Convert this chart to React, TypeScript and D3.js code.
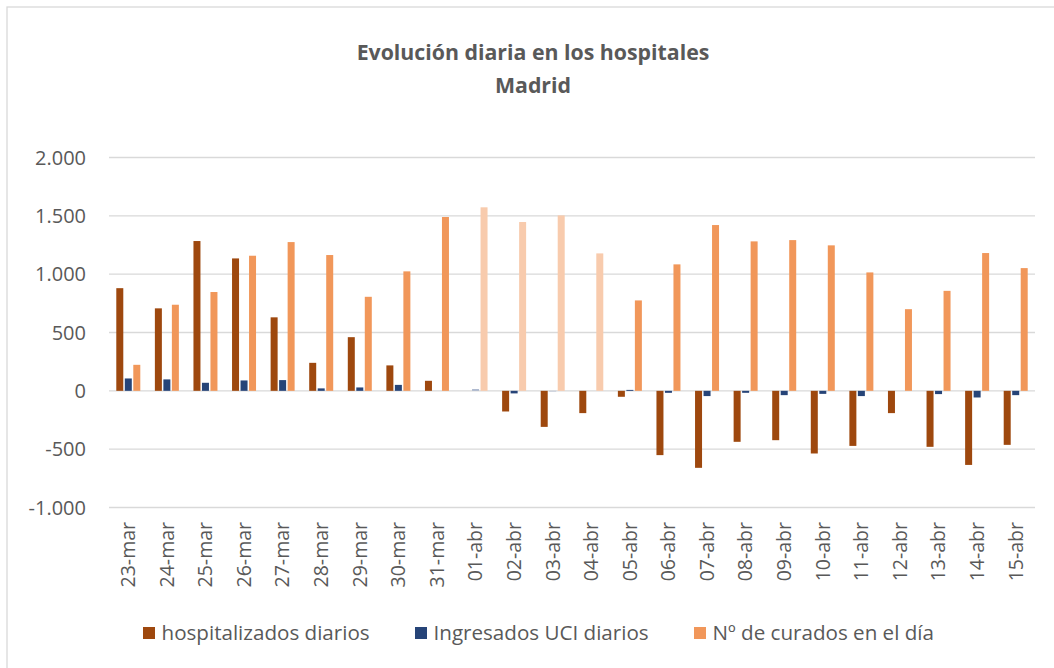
import * as d3 from 'd3';

const days = ['23-mar', '24-mar', '25-mar', '26-mar', '27-mar', '28-mar', '29-mar', '30-mar', '31-mar',
  '01-abr', '02-abr', '03-abr', '04-abr', '05-abr', '06-abr', '07-abr', '08-abr', '09-abr', '10-abr',
  '11-abr', '12-abr', '13-abr', '14-abr', '15-abr'];
const hospitalizados = [880, 707, 1284, 1135, 630, 240, 460, 218, 86, 0, -177, -309, -191, -51, -551, -660, -437, -423, -537, -472, -191, -480, -635, -463];
const uci = [106, 98, 69, 89, 92, 21, 29, 51, 0, 15, -22, -5, 0, 8, -17, -45, -17, -37, -26, -45, 0, -28, -57, -37];
const curados = [223, 738, 847, 1158, 1275, 1164, 806, 1024, 1490, 1573, 1447, 1504, 1178, 775, 1084, 1421, 1281, 1292, 1247, 1015, 700, 857, 1181, 1052];
const yTicks = [-1000, -500, 0, 500, 1000, 1500, 2000];
// points that are drawn in a paler tone in the original
const paleCurados = ['01-abr', '02-abr', '03-abr', '04-abr'];
const paleUci = ['01-abr', '03-abr'];

const series = [
  { name: 'hospitalizados diarios', values: hospitalizados, color: '#9E480E', pale: [] as string[], pcolor: '#9E480E' },
  { name: 'Ingresados UCI diarios', values: uci, color: '#264478', pale: paleUci, pcolor: '#A9B5CC' },
  { name: 'Nº de curados en el día', values: curados, color: '#F1975A', pale: paleCurados, pcolor: '#F8CBAD' },
];

const W = 1054, H = 668;
const left = 109, right = 1035, top = 157.5, bottom = 507.5;
const font = '"Open Sans", sans-serif';
const txt = '#595959';

export default function App() {
  const x = d3.scaleBand().domain(days).range([left, right]);
  const y = d3.scaleLinear().domain([-1000, 2000]).range([bottom, top]);
  const inner = d3.scaleBand().domain(series.map(s => s.name))
    .range([-12.75, 12.75]);
  const bw = 7;
  // Spanish style: dot as thousands separator, plain hyphen for minus
  const fmt = (v: number) => d3.format(',')(v).replace(/,/g, '.').replace('\u2212', '-');
  const legendX = [143, 415, 694];

  return (
    <svg width={W} height={H} style={{ position: 'absolute', left: 0, top: 0, display: 'block' }}>
      <rect x={0} y={0} width={W} height={H} fill="#fff" />
      <rect x={7} y={7} width={W + 20} height={H + 20} fill="none" stroke="#d9d9d9" strokeWidth={1.3} />

      <text x={533} y={60} textAnchor="middle" fontFamily={font} fontWeight="bold" fontSize={21.3} fill={txt}>
        Evolución diaria en los hospitales
      </text>
      <text x={533} y={93} textAnchor="middle" fontFamily={font} fontWeight="bold" fontSize={21.3} fill={txt}>
        Madrid
      </text>

      {yTicks.map(t => (
        <g key={t}>
          <line x1={left} x2={right} y1={y(t)} y2={y(t)} stroke="#d9d9d9" strokeWidth={1.3} />
          <text x={86} y={y(t)} dy="0.35em" textAnchor="end" fontFamily={font} fontSize={20} fill={txt}>
            {fmt(t)}
          </text>
        </g>
      ))}

      {series.map(s => (
        <g key={s.name}>
          {s.values.map((v, i) => {
            const cx = x(days[i])! + x.bandwidth() / 2 + inner(s.name)! + inner.bandwidth() / 2;
            const pale = s.pale.includes(days[i]);
            return (
              <rect key={i} x={cx - bw / 2} width={bw}
                y={Math.min(y(v), y(0))} height={Math.abs(y(v) - y(0))}
                fill={pale ? s.pcolor : s.color} />
            );
          })}
        </g>
      ))}

      {days.map(d => {
        const cx = x(d)! + x.bandwidth() / 2;
        return (
          <text key={d} transform={`translate(${cx},522) rotate(-90)`} dy="0.35em" textAnchor="end"
            fontFamily={font} fontSize={19.5} fill={txt}>
            {d}
          </text>
        );
      })}

      {series.map((s, i) => (
        <g key={s.name} transform={`translate(${legendX[i]},627)`}>
          <rect x={0} y={0} width={12} height={12} fill={s.color} />
          <text x={18.5} y={13} fontFamily={font} fontSize={20.6} fill={txt}>{s.name}</text>
        </g>
      ))}
    </svg>
  );
}
